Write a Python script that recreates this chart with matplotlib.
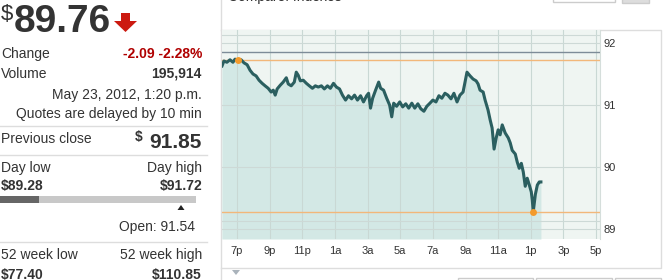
import matplotlib
matplotlib.use("Agg")
import matplotlib.pyplot as plt
import matplotlib.patches as mp

plt.rcParams['font.family'] = ['Liberation Sans', 'DejaVu Sans']

# ---- quote panel values ----
last_price = "89.76"
change_txt = "-2.09 -2.28%"
volume_txt = "195,914"
stamp_txt = "May 23, 2012, 1:20 p.m."
delay_txt = "Quotes are delayed by 10 min"
prev_close = 91.85
day_low, day_high = 89.28, 91.72
open_price = 91.54
wk52_low, wk52_high = 77.40, 110.85

# ---- intraday series: hours after 6 p.m. (May 22) and price ----
hours = [0.08, 0.20, 0.38, 0.57, 0.75, 0.88, 1.06, 1.25, 1.43, 1.62, 1.80, 1.98, 2.17, 2.35,
         2.54, 2.72, 2.91, 3.09, 3.22, 3.34, 3.46, 3.65, 3.83, 4.02, 4.14, 4.32, 4.51, 4.63,
         4.75, 4.88, 5.06, 5.25, 5.43, 5.62, 5.80, 5.98, 6.17, 6.35, 6.54, 6.72, 6.91, 7.09,
         7.28, 7.46, 7.65, 7.83, 8.02, 8.20, 8.38, 8.57, 8.75, 8.94, 9.06, 9.18, 9.31, 9.49,
         9.68, 9.80, 9.98, 10.17, 10.35, 10.48, 10.60, 10.78, 10.97, 11.15, 11.34, 11.52,
         11.71, 11.89, 12.08, 12.26, 12.45, 12.63, 12.82, 13.00, 13.19, 13.37, 13.55, 13.74,
         13.92, 14.11, 14.29, 14.48, 14.66, 14.85, 14.97, 15.09, 15.28, 15.46, 15.65, 15.77,
         15.89, 16.08, 16.20, 16.38, 16.51, 16.63, 16.75, 16.88, 17.00, 17.12, 17.25, 17.43,
         17.62, 17.74, 17.86, 18.05, 18.17, 18.29, 18.42, 18.54, 18.66, 18.78, 18.91, 19.03,
         19.09, 19.15, 19.28, 19.40, 19.52, 19.62]
price = [91.63, 91.71, 91.69, 91.73, 91.69, 91.74, 91.72, 91.73, 91.68, 91.65, 91.56, 91.50,
         91.47, 91.40, 91.35, 91.31, 91.27, 91.21, 91.24, 91.16, 91.26, 91.32, 91.37, 91.44,
         91.34, 91.31, 91.37, 91.53, 91.48, 91.39, 91.40, 91.35, 91.31, 91.27, 91.31, 91.29,
         91.31, 91.26, 91.31, 91.27, 91.35, 91.29, 91.26, 91.16, 91.08, 91.15, 91.10, 91.16,
         91.08, 91.15, 91.05, 91.15, 91.19, 90.95, 91.11, 91.24, 91.37, 91.27, 91.24, 91.11,
         91.00, 90.81, 91.03, 90.98, 91.05, 90.97, 91.02, 90.95, 91.03, 90.95, 91.02, 90.94,
         90.90, 90.98, 91.03, 91.08, 91.05, 91.15, 91.11, 91.19, 91.16, 91.10, 91.19, 91.05,
         91.16, 91.21, 91.37, 91.53, 91.47, 91.42, 91.39, 91.34, 91.24, 91.21, 91.08, 90.92,
         90.76, 90.63, 90.29, 90.47, 90.60, 90.52, 90.68, 90.55, 90.47, 90.39, 90.27, 90.21,
         90.08, 89.98, 90.06, 89.92, 89.69, 89.82, 89.71, 89.60, 89.47, 89.28, 89.56, 89.71,
         89.76, 89.76]
high_hour, low_hour = 1.06, 19.15

tick_hours = [1, 3, 5, 7, 9, 11, 13, 15, 17, 19, 21, 23]
tick_labels = ["7p", "9p", "11p", "1a", "3a", "5a", "7a", "9a", "11a", "1p", "3p", "5p"]
price_ticks = [89, 90, 91, 92]

W, H = 669, 280
fig = plt.figure(figsize=(W / 100, H / 100), dpi=100)

# overlay in pixel coordinates for the quote panel and frames
ov = fig.add_axes([0, 0, 1, 1])
ov.set_xlim(0, W); ov.set_ylim(H, 0); ov.axis("off")
TXT, RED = "#333333", "#b00000"
R = 202

ov.text(0.5, 20, "$", fontsize=16, color=TXT, va="baseline")
ov.text(14, 32, last_price, fontsize=28, fontweight="bold", color=TXT, va="baseline")
ov.add_patch(mp.Polygon([(121, 13), (130, 13), (130, 21), (137, 21), (125.5, 32), (114, 21), (121, 21)],
                        closed=True, fc="#cc1a10", ec="none"))

def row(y, left, right, rcol=TXT, lbold=False, rbold=True, size=10):
    if left:
        ov.text(1, y, left, fontsize=10, color=TXT, va="baseline",
                fontweight="bold" if lbold else "normal")
    if right:
        ov.text(R, y, right, fontsize=size, color=rcol, va="baseline", ha="right",
                fontweight="bold" if rbold else "normal")

row(58, "Change", change_txt, rcol=RED)
row(78, "Volume", volume_txt)
row(99, None, stamp_txt, rbold=False)
row(118, None, delay_txt, rbold=False)
for y in (126, 155, 242):
    ov.plot([0, 207], [y, y], color="#dddddd", lw=1)
ov.text(1, 143, "Previous close", fontsize=10, color=TXT, va="baseline")
ov.text(R, 148, f"{prev_close:.2f}", fontsize=15, fontweight="bold", color=TXT, va="baseline", ha="right")
ov.text(143, 141, "$", fontsize=10, fontweight="bold", color=TXT, va="baseline", ha="right")
row(172, "Day low", "Day high", rbold=False)
row(190, f"${day_low:.2f}", f"${day_high:.2f}", lbold=True)
# day range bar
ov.add_patch(mp.Rectangle((0, 196), 196, 6.5, fc="#c8c8c8", ec="none"))
ov.add_patch(mp.Rectangle((0, 196), 39, 6.5, fc="#666666", ec="none"))
ov.add_patch(mp.Polygon([(177.5, 210), (184.5, 210), (181, 205)], closed=True, fc="#222222", ec="none"))
ov.text(195, 231, f"Open: {open_price:.2f}", fontsize=10, color=TXT, va="baseline", ha="right")
row(259, "52 week low", "52 week high", rbold=False)
row(278.5, f"${wk52_low:.2f}", f"${wk52_high:.2f}", lbold=True)

# chart frame and widgets
ov.plot([221, 221], [0, H], color="#dddddd", lw=1)
ov.plot([221, 660.5, 660.5, 221], [30, 30, 268, 268], color="#dddddd", lw=1)
ov.text(228, 0.5, "Compare: Indexes", fontsize=10, color=TXT, va="baseline")
ov.add_patch(mp.Rectangle((553, -5), 62, 7, fc="white", ec="#cccccc", lw=1))
ov.add_patch(mp.Rectangle((622, -5), 27, 8, fc="#dddddd", ec="#cccccc", lw=1))
ov.add_patch(mp.Polygon([(232, 270), (240, 270), (236, 275)], closed=True, fc="#aab3bb", ec="none"))
for x0, x1 in ((458, 533), (536, 612), (615, 661)):
    ov.add_patch(mp.Rectangle((x0, 278), x1 - x0, 6, fc="white", ec="#cccccc", lw=1))

# price chart
ax = fig.add_axes([222 / W, (H - 239) / H, (600 - 222) / W, (239 - 30) / H])
ax.set_facecolor("#eff5f2")
ax.set_xlim(0.08, 23.24)
ax.set_ylim(88.84, 92.21)
ax.fill_between(hours, price, 88.84, color="#d3e8e5", lw=0, zorder=1)
for h in tick_hours:
    ax.axvline(h, color="#c9d8d4", lw=0.8, zorder=2)
for p in price_ticks + [92.13, 89.13]:
    ax.axhline(p, color="#cdd9d6", lw=0.8, zorder=2)
ax.axhline(prev_close, color="#7d8c98", lw=1, zorder=3)
ax.axhline(day_high, color="#f2b77a", lw=1, zorder=3)
ax.axhline(day_low, color="#f2b77a", lw=1, zorder=3)
ax.plot(hours, price, color="#2b5f60", lw=2.2, solid_joinstyle="round", zorder=4)
ax.plot([high_hour, low_hour], [day_high, day_low], "o", color="#f39a2b", ms=5, mec="none", zorder=5)

ax.set_xticks(tick_hours, tick_labels)
ax.set_yticks(price_ticks)
ax.yaxis.tick_right()
ax.tick_params(length=0, labelsize=8, colors="#333333")
ax.tick_params(axis="x", pad=5)
ax.tick_params(axis="y", pad=2.5)
for s in ("top", "left", "bottom"):
    ax.spines[s].set_visible(False)
ax.spines["right"].set_color("#d5dedb")

fig.savefig("out.png", dpi=100)
